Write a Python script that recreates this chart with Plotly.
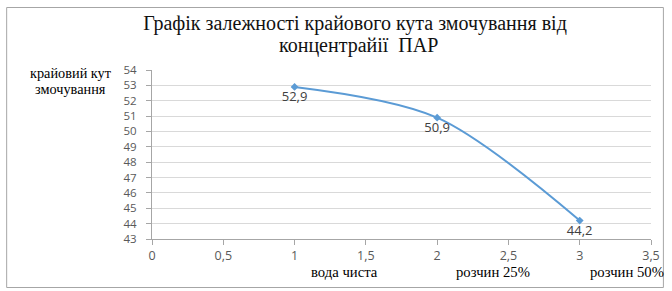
import plotly.graph_objects as go

x_values = [1, 2, 3]
y_values = [52.9, 50.9, 44.2]
point_labels = ["52,9", "50,9", "44,2"]
category_labels = ["вода чиста", "розчин 25%", "розчин 50%"]
category_positions = [1.35, 2.39, 3.33]
title_line1 = "Графік залежності крайового кута змочування від"
title_line2 = "концентрайії  ПАР"
y_title_lines = ["крайовий кут", "змочування"]

SERIF = "Liberation Serif"
SANS = "Open Sans"

W, H = 672, 291
L, R, T, B = 152, 17, 70, 52
pw, ph = W - L - R, H - T - B

def px_to_paper_x(px):
    return (px - L) / pw

def py_to_paper_y(py):
    return (H - B - py) / ph

fig = go.Figure()
fig.add_trace(go.Scatter(
    x=x_values, y=y_values,
    mode="lines+markers+text",
    line=dict(color="#5B9BD5", width=2, shape="spline", smoothing=0.9),
    marker=dict(symbol="diamond", size=6, color="#5B9BD5"),
    text=point_labels,
    textposition="bottom center",
    textfont=dict(family=SANS, size=13, color="#404040"),
    cliponaxis=False,
    showlegend=False,
))

annotations = []
annotations.append(dict(
    x=px_to_paper_x(360), y=py_to_paper_y(46), xref="paper", yref="paper",
    text=title_line2, showarrow=False,
    font=dict(family=SERIF, size=20, color="#111111"),
    xanchor="center", yanchor="middle",
))
for lab, pos in zip(category_labels, category_positions):
    annotations.append(dict(
        x=pos, y=py_to_paper_y(272), xref="x", yref="paper",
        text=lab, showarrow=False,
        font=dict(family=SERIF, size=14.7, color="#000000"),
        xanchor="center", yanchor="middle",
    ))
for i, line in enumerate(y_title_lines):
    annotations.append(dict(
        x=px_to_paper_x(70), y=py_to_paper_y(73 + 16 * i), xref="paper", yref="paper",
        text=line, showarrow=False,
        font=dict(family=SERIF, size=14.3, color="#000000"),
        xanchor="center", yanchor="middle",
    ))

fig.update_layout(
    width=W, height=H,
    margin=dict(l=L, r=R, t=T, b=B),
    paper_bgcolor="white", plot_bgcolor="white",
    title=dict(
        text=title_line1, x=355 / W, xanchor="center", y=1 - 23 / H, yanchor="middle",
        font=dict(family=SERIF, size=20, color="#111111"),
    ),
    xaxis=dict(
        range=[0, 3.5], tickmode="array",
        tickvals=[0, 0.5, 1, 1.5, 2, 2.5, 3, 3.5],
        ticktext=["0", "0,5", "1", "1,5", "2", "2,5", "3", "3,5"],
        showgrid=False, zeroline=False,
        showline=True, linecolor="#A6A6A6", linewidth=1,
        ticks="outside", ticklen=5, tickcolor="#A6A6A6",
        tickfont=dict(family=SANS, size=12.5, color="#595959"),
        fixedrange=True,
    ),
    yaxis=dict(
        range=[43, 54], tickmode="array",
        tickvals=list(range(43, 55)),
        showgrid=True, gridcolor="#D9D9D9", gridwidth=1, zeroline=False,
        showline=True, linecolor="#A6A6A6", linewidth=1,
        ticks="outside", ticklen=5, tickcolor="#A6A6A6",
        tickfont=dict(family=SANS, size=11.5, color="#595959"),
        ticklabelstandoff=7,
        fixedrange=True,
    ),
    annotations=annotations,
    shapes=[dict(
        type="rect", xref="paper", yref="paper",
        x0=px_to_paper_x(5.5), x1=px_to_paper_x(667.5),
        y0=py_to_paper_y(287.5), y1=py_to_paper_y(7.5),
        line=dict(color="#A6A6A6", width=1), fillcolor="rgba(0,0,0,0)", layer="below",
    )],
)

fig.write_html(
    "out.html",
    config={"displayModeBar": False},
    post_script="document.body.style.margin='0';document.body.style.overflow='hidden';",
)
